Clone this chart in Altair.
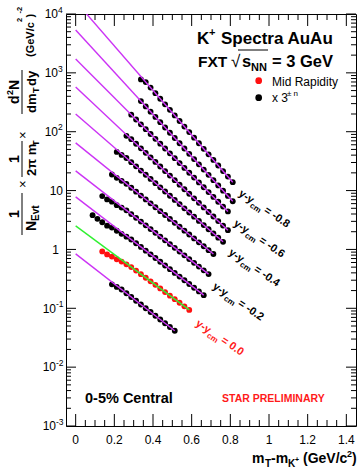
import altair as alt
import pandas as pd
import math

# ---------------- data ----------------
mt_bins = [0.0875, 0.1125, 0.1375, 0.1625, 0.1875, 0.2125, 0.2375, 0.2625,
           0.2875, 0.3125, 0.3375, 0.3625, 0.3875, 0.4125, 0.4375, 0.4625,
           0.4875, 0.5125, 0.5375, 0.5625, 0.5875, 0.6125, 0.6375, 0.6625,
           0.6875, 0.7125, 0.7375, 0.7625, 0.7875, 0.8125]

series_names = ["+0.1", "0.0", "-0.1", "-0.2", "-0.3", "-0.4", "-0.5", "-0.6", "-0.7", "-0.8"]
first_bin = [4, 2, 0, 2, 4, 5, 7, 8, 10, 10]

yield_p01 = [0.255, 0.231, 0.2085, 0.180, 0.1556, 0.1343, 0.1159, 0.100, 0.0865,
             0.0746, 0.0644, 0.0557, 0.0481, 0.0415]
yield_000 = [0.925, 0.822, 0.757, 0.682, 0.621, 0.558, 0.502, 0.4375, 0.380, 0.3305,
             0.287, 0.250, 0.2173, 0.1888, 0.164, 0.1429, 0.1242, 0.1079, 0.0938]
yield_m01 = [3.824, 3.307, 2.894, 2.533, 2.348, 2.077, 1.839, 1.646, 1.474, 1.275,
             1.103, 0.954, 0.825, 0.714, 0.617, 0.534, 0.462, 0.399, 0.3455, 0.299,
             0.2585, 0.2236, 0.1934, 0.1673]
yield_m02 = [8.065, 7.075, 6.471, 5.653, 5.146, 4.622, 3.990, 3.446, 2.975, 2.569,
             2.218, 1.915, 1.654, 1.428, 1.233, 1.065, 0.919, 0.794, 0.6855, 0.592,
             0.511, 0.441, 0.381]
yield_m03 = [18.75, 16.48, 14.64, 13.02, 11.17, 9.592, 8.233, 7.069, 6.069, 5.210,
             4.473, 3.841, 3.297, 2.831, 2.430, 2.086, 1.791, 1.538, 1.320, 1.133,
             0.973, 0.835]
yield_m04 = [45.34, 40.29, 35.80, 30.38, 25.79, 21.88, 18.57, 15.76, 13.38, 11.35,
             9.636, 8.177, 6.940, 5.890, 4.999, 4.242, 3.601, 3.055, 2.593, 2.201,
             1.868, 1.585, 1.346]
yield_m05 = [85.11, 74.60, 62.43, 52.25, 43.74, 36.61, 30.65, 25.65, 21.47, 17.97,
             15.04, 12.59, 10.54, 8.823, 7.384, 6.182, 5.174, 4.331, 3.626, 3.034,
             2.540, 2.126]
yield_m06 = [195.1, 161.4, 133.6, 110.5, 91.44, 75.66, 62.60, 51.81, 42.86, 35.47,
             29.35, 24.29, 20.10, 16.63, 13.76, 11.39, 9.421, 7.796, 6.450, 5.338,
             4.417]
yield_m07 = [331.0, 269.3, 219.1, 178.3, 145.1, 118.1, 96.09, 78.19, 63.63, 51.79,
             42.14, 34.29, 27.91, 22.71, 18.48, 15.04, 12.24, 9.959, 8.104, 6.594]
yield_m08 = [773.0, 697.8, 561.4, 451.4, 363.2, 292.2, 235.0, 189.1, 152.1, 122.4,
             98.44, 79.17, 63.70, 51.26, 41.23, 33.17, 26.68, 21.46, 17.27, 13.89]
yields = [yield_p01, yield_000, yield_m01, yield_m02, yield_m03, yield_m04,
          yield_m05, yield_m06, yield_m07, yield_m08]

fit_x_end = [0.5125, 0.5875, 0.6625, 0.6875, 0.7125, 0.7625, 0.7875, 0.7875, 0.8125, 0.8125]
fit_y_start = [0.841, 2.512, 7.816, 21.58, 64.57, 200.4, 576.8, 1722.0, 5346.0, 16370.0]
fit_y_end = [0.0415, 0.0938, 0.1673, 0.381, 0.835, 1.346, 2.126, 4.417, 6.594, 13.89]

x_major = [0, 0.2, 0.4, 0.6, 0.8, 1.0, 1.2, 1.4]
x_major_text = ["0", "0.2", "0.4", "0.6", "0.8", "1", "1.2", "1.4"]
x_minor = [0.05, 0.1, 0.15, 0.25, 0.3, 0.35, 0.45, 0.5, 0.55, 0.65, 0.7,
           0.75, 0.85, 0.9, 0.95, 1.05, 1.1, 1.15, 1.25, 1.3, 1.35]
y_major = [1e-3, 1e-2, 1e-1, 1, 10, 100, 1000, 10000]
y_minor = [m * d for d in [1e-3, 1e-2, 1e-1, 1, 10, 100, 1000] for m in range(2, 10)]
y_lab_neg = [1e-3, 1e-2, 1e-1]
y_lab_neg_exp = ["-3", "-2", "-1"]
y_lab_pos = [100, 1000, 10000]
y_lab_pos_exp = ["2", "3", "4"]

# ---------------- geometry ----------------
W, H = 290, 412
OX, OY = 66, 14
FONT = "Liberation Sans"
MAG = "#cc33f5"
XMIN, XMAX = -0.05, 1.45
YMIN, YMAX = 1e-3, 1e4

xs = alt.Scale(domain=[XMIN, XMAX], nice=False, zero=False)
ys = alt.Scale(type="log", domain=[YMIN, YMAX], nice=False)
X = lambda f: alt.X(f, type="quantitative", scale=xs, axis=None)
Y = lambda f: alt.Y(f, type="quantitative", scale=ys, axis=None)

# ---------------- tables ----------------
pt_rows = []
for name, fb, vals in zip(series_names, first_bin, yields):
    for j, v in enumerate(vals):
        pt_rows.append({"x": mt_bins[fb + j], "y": v, "s": name})
pts = pd.DataFrame(pt_rows)

fit_rows = []
for name, xe, y0, y1 in zip(series_names, fit_x_end, fit_y_start, fit_y_end):
    fit_rows.append({"x": 0.0, "y": y0, "s": name})
    fit_rows.append({"x": xe, "y": y1, "s": name})
fits = pd.DataFrame(fit_rows)

black_pts = alt.Chart(pts[pts.s != "0.0"]).mark_circle(size=34, opacity=1, color="black").encode(
    x=X("x"), y=Y("y"), detail="s:N")
red_pts = alt.Chart(pts[pts.s == "0.0"]).mark_circle(size=34, opacity=1, color="#ff1010").encode(
    x=X("x"), y=Y("y"))
mag_lines = alt.Chart(fits[fits.s != "0.0"]).mark_line(color=MAG, strokeWidth=1.4, clip=True).encode(
    x=X("x"), y=Y("y"), detail="s:N")
green_line = alt.Chart(fits[fits.s == "0.0"]).mark_line(color="#30f030", strokeWidth=1.4, clip=True).encode(
    x=X("x"), y=Y("y"))

# ---------------- frame ticks (drawn inward, ROOT style) ----------------
dec_px = math.log10(YMAX / YMIN) / H
x_px = (XMAX - XMIN) / W

def xtick_layer(vals, ln):
    rows = []
    for v in vals:
        rows.append({"x": v, "y": YMIN, "y2": 10 ** (math.log10(YMIN) + ln * dec_px)})
        rows.append({"x": v, "y": YMAX, "y2": 10 ** (math.log10(YMAX) - ln * dec_px)})
    return alt.Chart(pd.DataFrame(rows)).mark_rule(color="black", strokeWidth=1).encode(
        x=X("x"), y=Y("y"), y2="y2:Q")

def ytick_layer(vals, ln):
    rows = []
    for v in vals:
        rows.append({"y": v, "x": XMIN, "x2": XMIN + ln * x_px})
        rows.append({"y": v, "x": XMAX, "x2": XMAX - ln * x_px})
    return alt.Chart(pd.DataFrame(rows)).mark_rule(color="black", strokeWidth=1).encode(
        y=Y("y"), x=X("x"), x2="x2:Q")

tick_layers = [xtick_layer(x_major, 12), xtick_layer(x_minor, 6),
               ytick_layer(y_major, 10), ytick_layer(y_minor, 5)]

# ---------------- axis labels ----------------
xl = pd.DataFrame({"x": x_major, "t": x_major_text, "y": [YMIN] * len(x_major)})
x_labels = alt.Chart(xl).mark_text(font=FONT, fontSize=12, align="center", baseline="alphabetic",
                                   dy=17.5, color="black").encode(x=X("x"), y=Y("y"), text="t:N")

def ylab(vals, texts, dx, size, dy, align):
    d = pd.DataFrame({"y": vals, "t": texts, "x": [XMIN] * len(vals)})
    return alt.Chart(d).mark_text(font=FONT, fontSize=size, align=align, baseline="alphabetic",
                                  dx=dx, dy=dy, color="black").encode(x=X("x"), y=Y("y"), text="t:N")

y_labels = [
    ylab(y_lab_neg, ["10"] * 3, -10, 12, 4.3, "right"),
    ylab(y_lab_neg, y_lab_neg_exp, -10, 8.5, -1.3, "left"),
    ylab(y_lab_pos, ["10"] * 3, -8, 12, 4.3, "right"),
    ylab(y_lab_pos, y_lab_pos_exp, -8, 8.5, -1.3, "left"),
    ylab([1], ["1"], -7, 12, 4.3, "right"),
    ylab([10], ["10"], -3, 12, 4.3, "right"),
]

# ---------------- text helpers (image pixel positions) ----------------
one = pd.DataFrame({"a": [0]})

def txt(s, ix, iy, size, bold=True, color="black", angle=0, align="left"):
    return alt.Chart(one).mark_text(align=align, baseline="alphabetic", font=FONT, fontSize=size,
                                    fontWeight="bold" if bold else "normal", color=color,
                                    angle=angle).encode(
        x=alt.value(ix - OX), y=alt.value(iy - OY), text=alt.value(s))

def bar(ix1, iy1, ix2, iy2, color="black", w=1):
    return alt.Chart(one).mark_rule(color=color, strokeWidth=w).encode(
        x=alt.value(ix1 - OX), y=alt.value(iy1 - OY), x2=alt.value(ix2 - OX), y2=alt.value(iy2 - OY))

def dot(ix, iy, color):
    return alt.Chart(one).mark_circle(size=45, opacity=1, color=color).encode(
        x=alt.value(ix - OX), y=alt.value(iy - OY))

ann = []
# header
ann += [txt("K", 197, 44, 17), txt("+", 209, 36, 11), txt("Spectra AuAu", 221, 44, 17)]
ann += [txt("FXT", 198, 67, 15.5), txt("√", 231, 67, 17, bold=False), txt("s", 242, 67, 16.5),
        txt("NN", 251, 71, 11), txt("= 3 GeV", 272, 67, 16.5), bar(238, 50, 268, 50)]
# legend
ann += [dot(258.7, 80.7, "#ff1010"), dot(258.7, 97.7, "black"),
        txt("Mid Rapidity", 272, 86, 12, bold=False), txt("x 3", 272, 102, 12, bold=False),
        txt("± n", 287, 96, 8, bold=False)]
# corner texts
ann += [txt("0-5% Central", 85, 403, 14.5), txt("STAR PRELIMINARY", 222, 402, 10.5, color="#ff1a1a")]

# rotated rapidity labels
ang = 34
ux, uy = math.cos(math.radians(ang)), math.sin(math.radians(ang))
nx, ny = -uy, ux
rap_lab = [("-0.8", 238, 195, "black"), ("-0.6", 233, 225, "black"), ("-0.4", 228, 254, "black"),
           ("-0.2", 212, 288, "black"), ("0.0", 195, 325, "#ff1a1a")]
for val, px, py, col in rap_lab:
    ann.append(txt("y-y", px, py, 11, color=col, angle=ang))
    ann.append(txt("cm", px + 16 * ux + 3.5 * nx, py + 16 * uy + 3.5 * ny, 8, color=col, angle=ang))
    ann.append(txt("= " + val, px + 30.5 * ux, py + 30.5 * uy, 11, color=col, angle=ang))

# x axis title
ann += [txt("m", 252, 463, 14), txt("T", 265, 467, 10), txt("-m", 271, 463, 14),
        txt("K", 288, 467, 10), txt("+", 295, 462, 7), txt("(GeV/c", 303, 463, 14),
        txt("2", 347, 457, 9), txt(")", 352, 463, 14)]

# y axis title (rotated, reading bottom to top)
R = 270
ann += [txt("1", 19, 218, 14, angle=R), bar(22, 193, 22, 235), txt("N", 36, 231, 14, angle=R),
        txt("Evt", 39, 221, 10, angle=R),
        txt("×", 27, 188, 13, bold=False, angle=R),
        txt("1", 19, 163, 14, angle=R), bar(22, 141, 22, 177), txt("2π m", 36, 176, 13, angle=R),
        txt("T", 39, 146, 9, angle=R),
        txt("×", 27, 139, 13, bold=False, angle=R),
        txt("d", 19, 104, 14, angle=R), txt("2", 13, 95, 9, angle=R), txt("N", 19, 90, 14, angle=R),
        bar(22, 70, 22, 114),
        txt("dm", 36, 113, 13, angle=R), txt("T", 39, 93, 9, angle=R), txt("dy", 36, 86, 13, angle=R),
        txt("(GeV/c", 34, 57, 11, angle=R), txt("2", 22, 22, 7.5, angle=R), txt(")", 34, 17.5, 11, angle=R),
        txt("-2", 22, 13.5, 7.5, angle=R)]

chart = alt.layer(black_pts, red_pts, mag_lines, green_line, *tick_layers, x_labels, *y_labels,
                  *ann).properties(
    width=W, height=H,
    padding={"left": OX, "top": OY, "right": 360 - OX - W, "bottom": 470 - OY - H},
    autosize=alt.AutoSizeParams(type="none"),
    background="white",
).configure_view(stroke="black", strokeWidth=1)

chart.save("out.html", embed_options={"renderer": "svg", "actions": False})
